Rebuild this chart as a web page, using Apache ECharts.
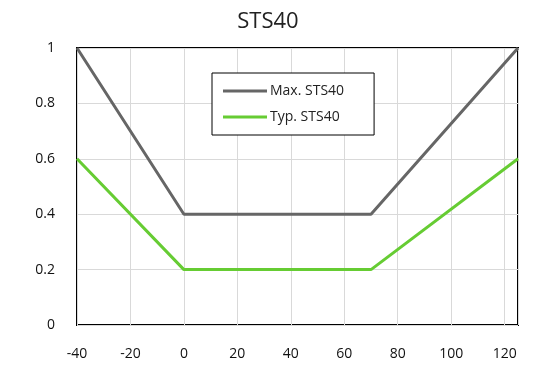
<!DOCTYPE html>
<html>
<head>
<meta charset="utf-8">
<script src="https://cdn.jsdelivr.net/npm/echarts@6/dist/echarts.min.js"></script>
<style>html,body{margin:0;padding:0;background:#fff}#chart{width:536px;height:368px}</style>
</head>
<body>
<div id="chart"></div>
<script>
// Temperature breakpoints (°C) and derating values for each curve
const temps = [-40, 0, 70, 125];
const maxValues = [1, 0.4, 0.4, 1];
const typValues = [0.6, 0.2, 0.2, 0.6];
const seriesNames = ['Max. STS40', 'Typ. STS40'];
const chartTitle = 'STS40';

const font = '"Open Sans", "Noto Sans", sans-serif';
const chart = echarts.init(document.getElementById('chart'));
chart.setOption({
  animation: false,
  title: {
    text: chartTitle, left: 'center', top: 6,
    textStyle: { fontFamily: font, fontSize: 22, fontWeight: 'normal', color: '#222' }
  },
  legend: {
    orient: 'vertical', left: 212, top: 73,
    padding: [11, 30, 11, 11], itemGap: 12,
    borderColor: '#000', borderWidth: 1, backgroundColor: '#fff',
    icon: 'rect', itemWidth: 44, itemHeight: 3,
    textStyle: { fontFamily: font, fontSize: 14, color: '#222', padding: [0, 0, 0, -2] },
    data: seriesNames
  },
  grid: { left: 77, right: 18, top: 48, bottom: 43, show: true, borderColor: '#000', borderWidth: 2 },
  xAxis: {
    type: 'value', min: -40, max: 125, interval: 20,
    axisLine: { show: false }, axisTick: { show: false },
    axisLabel: { fontFamily: font, fontSize: 14, color: '#111', margin: 22, showMaxLabel: false },
    splitLine: { lineStyle: { color: '#d9d9d9', width: 1 } }
  },
  yAxis: {
    type: 'value', min: 0, max: 1, interval: 0.2,
    axisLine: { show: false }, axisTick: { show: false },
    axisLabel: { fontFamily: font, fontSize: 14, color: '#111', margin: 22 },
    splitLine: { lineStyle: { color: '#d9d9d9', width: 1 } }
  },
  series: [
    {
      name: seriesNames[0], type: 'line', symbol: 'none',
      data: temps.map((t, i) => [t, maxValues[i]]),
      lineStyle: { color: '#666666', width: 3 }, itemStyle: { color: '#666666' }
    },
    {
      name: seriesNames[1], type: 'line', symbol: 'none',
      data: temps.map((t, i) => [t, typValues[i]]),
      lineStyle: { color: '#66cc33', width: 3 }, itemStyle: { color: '#66cc33' }
    }
  ]
});
</script>
</body>
</html>
